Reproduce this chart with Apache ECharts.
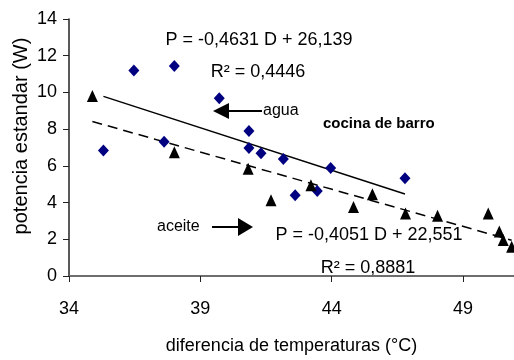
<!DOCTYPE html>
<html>
<head>
<meta charset="utf-8">
<script src="https://cdn.jsdelivr.net/npm/echarts@6/dist/echarts.min.js"></script>
<style>
  html, body { margin: 0; padding: 0; background: #fff; }
  #chart { width: 514px; height: 360px; }
</style>
</head>
<body>
<div id="chart"></div>
<script>
// agua (diamantes)
const aguaX = [35.31, 36.47, 37.62, 38.01, 39.72, 40.85, 40.85, 41.31, 42.16, 42.61, 43.45, 43.96, 46.79];
const aguaY = [6.83, 11.2, 7.31, 11.44, 9.68, 7.9, 6.97, 6.68, 6.38, 4.4, 4.63, 5.89, 5.33];

// aceite (triangulos)
const aceiteX = [34.89, 38.01, 40.82, 41.69, 43.21, 44.83, 45.55, 46.81, 48.03, 49.96, 50.38, 50.53, 50.85];
const aceiteY = [9.8, 6.74, 5.84, 4.13, 4.94, 3.76, 4.45, 3.41, 3.28, 3.41, 2.42, 1.96, 1.6];

// lineas de tendencia (de las ecuaciones del grafico)
const aguaTrend = { slope: -0.4631, intercept: 26.139 };
const aceiteTrend = { slope: -0.4051, intercept: 22.551 };

const xRange = [34, 50.94];
const yRange = [0, 14];

const font = "'Liberation Sans', Arial, sans-serif";

const pairs = (xs, ys) => xs.map((x, i) => [x, ys[i]]);
const trendLine = (xs, t) => {
  const lo = Math.min(...xs), hi = Math.max(...xs);
  return [[lo, t.intercept + t.slope * lo], [hi, t.intercept + t.slope * hi]];
};

const chart = echarts.init(document.getElementById("chart"));

const arrow = (x1, x2, tipX, y, half) => [
  { type: "line", shape: { x1: x1, y1: y, x2: x2, y2: y }, style: { stroke: "#000", lineWidth: 2 } },
  { type: "polygon", shape: { points: [[tipX, y], [x2, y - half], [x2, y + half]] }, style: { fill: "#000" } },
];

const label = (x, y, text, extra) => ({
  type: "text",
  x: x, y: y,
  style: Object.assign({ text: text, font: "17px " + font, fill: "#000", textVerticalAlign: "middle" }, extra || {}),
});

chart.setOption({
  animation: false,
  backgroundColor: "#fff",
  grid: { left: 69, top: 19, right: 0, bottom: 82 },
  xAxis: [
    {
      type: "value",
      min: xRange[0],
      max: xRange[1],
      interval: 5,
      name: "diferencia de temperaturas (°C)",
      nameLocation: "middle",
      nameGap: 61,
      nameTextStyle: { fontFamily: font, fontSize: 18, color: "#000" },
      axisLine: { onZero: false, lineStyle: { color: "#222", width: 2 } },
      axisTick: { show: true, length: 6, lineStyle: { color: "#222" } },
      axisLabel: { fontFamily: font, fontSize: 18, color: "#000", margin: 24, showMaxLabel: false },
      splitLine: { show: false },
    },
    {
      type: "value",
      position: "top",
      min: xRange[0],
      max: xRange[1],
      axisLine: { lineStyle: { color: "#888", width: 1.5 } },
      axisTick: { show: false },
      axisLabel: { show: false },
      splitLine: { show: false },
    },
  ],
  yAxis: {
    type: "value",
    min: yRange[0],
    max: yRange[1],
    interval: 2,
    axisLine: { show: true, lineStyle: { color: "#222", width: 1.5 } },
    axisTick: { show: true, length: 6, lineStyle: { color: "#222" } },
    axisLabel: { fontFamily: font, fontSize: 18, color: "#000", margin: 12 },
    splitLine: { show: false },
  },
  series: [
    {
      name: "agua tendencia",
      type: "line",
      data: trendLine(aguaX, aguaTrend),
      symbol: "none",
      lineStyle: { color: "#000", width: 1.5 },
      z: 1,
    },
    {
      name: "aceite tendencia",
      type: "line",
      data: trendLine(aceiteX, aceiteTrend),
      symbol: "none",
      lineStyle: { color: "#000", width: 1.5, type: [10, 6] },
      z: 1,
    },
    {
      name: "agua",
      type: "scatter",
      data: pairs(aguaX, aguaY),
      symbol: "diamond",
      symbolSize: [11, 12],
      itemStyle: { color: "#000080", opacity: 1 },
      z: 3,
    },
    {
      name: "aceite",
      type: "scatter",
      data: pairs(aceiteX, aceiteY),
      symbol: "triangle",
      symbolSize: [11, 12],
      itemStyle: { color: "#000", opacity: 1 },
      z: 3,
    },
  ],
  graphic: [
    {
      type: "text",
      x: 21, y: 136,
      rotation: Math.PI / 2,
      style: { text: "potencia estandar (W)", font: "20px " + font, fill: "#000", textAlign: "center", textVerticalAlign: "middle" },
    },
    label(259, 40, "P = -0,4631 D + 26,139", { font: "18px " + font, textAlign: "center" }),
    label(258, 72, "R² = 0,4446", { font: "18px " + font, textAlign: "center" }),
    label(263, 111, "agua", { font: "16px " + font }),
    label(323, 124, "cocina de barro", { font: "bold 15px " + font }),
    label(157, 227, "aceite", { font: "16px " + font }),
    label(369, 235, "P = -0,4051 D + 22,551", { font: "18px " + font, textAlign: "center" }),
    label(368, 268, "R² = 0,8881", { font: "18px " + font, textAlign: "center" }),
    ...arrow(262, 229, 213, 111, 8),
    ...arrow(212, 238, 253, 227, 9),
  ],
});
</script>
</body>
</html>
